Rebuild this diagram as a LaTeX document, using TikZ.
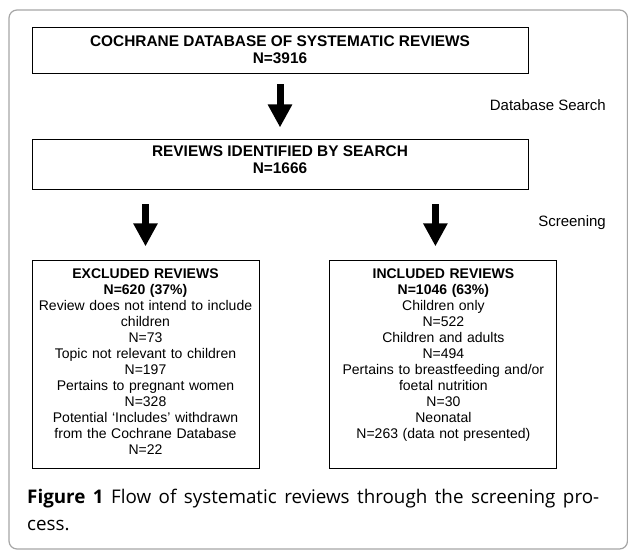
\documentclass[tikz,border=0pt]{standalone}
\usepackage{fontspec}
\setmainfont{Liberation Sans}
\newfontfamily\capfont{Open Sans}
\usetikzlibrary{positioning,arrows.meta}
\tikzset{head box/.style={draw=black,line width=0.9pt,minimum width=496pt,inner sep=0pt,align=center,font=\fontsize{15.4}{17}\selectfont\bfseries}}
\tikzset{list box/.style={draw=black,line width=0.9pt,text width=223pt,inner xsep=2pt,inner ysep=0pt,align=center,text height=18pt,text depth=190pt,font=\fontsize{14}{16}\selectfont}}
\tikzset{side label/.style={inner sep=0pt,font=\fontsize{15}{17}\selectfont}}
\tikzset{block arrow/.style={line width=7pt,-{Triangle[width=23pt,length=23pt]}}}
\tikzset{frame/.style={draw=black!35,line width=1.2pt,rounded corners=8pt}}

\begin{document}
\begin{tikzpicture}[x=1pt,y=-1pt]
        \useasboundingbox (0,0) rectangle (628,553);
        \draw[frame] (9,10) rectangle (627.5,549);

        \node[head box, minimum height=46pt] (top) at (280,50) {COCHRANE DATABASE OF SYSTEMATIC REVIEWS\\N=3916};
        \node[head box, minimum height=50pt, text depth=11pt] (search) [below = 66pt of top] {REVIEWS IDENTIFIED BY SEARCH\\N=1666};
        \node[list box, anchor=north west] (excl) [below right = 70pt and 0pt of search.south west] {\textbf{EXCLUDED REVIEWS}\\\textbf{N=620 (37\%)}\\Review does not intend to include\\children\\N=73\\Topic not relevant to children\\N=197\\Pertains to pregnant women\\N=328\\Potential ‘Includes’ withdrawn\\from the Cochrane Database\\N=22};
        \node[list box] (incl) [right = 70pt of excl] {\textbf{INCLUDED REVIEWS}\\\textbf{N=1046 (63\%)}\\Children only\\N=522\\Children and adults\\N=494\\Pertains to breastfeeding and/or\\foetal nutrition\\N=30\\Neonatal\\N=263 (data not presented)};
        \coordinate (incl in) at ([xshift=-8pt]incl.north);

        \node[side label, anchor=east] (dbsearch) at (606,105) {Database Search};
        \node[side label, anchor=east] (screen) at (606,223) {Screening};

        \draw[block arrow, shorten <=11pt, shorten >=12pt] (top) -- (search);
        \draw[block arrow, shorten <=14pt, shorten >=14pt] (search.south -| excl.north) -- (excl.north);
        \draw[block arrow, shorten <=14pt, shorten >=14pt] (search.south -| incl in) -- (incl in);

        \node[anchor=north west, inner sep=0pt, text width=572pt, align=justify, font=\capfont\fontsize{18.8}{27}\selectfont] (caption) at (27,489) {\textbf{Figure 1} Flow of systematic reviews through the screening pro-\linebreak cess.};
    \end{tikzpicture}
\end{document}
